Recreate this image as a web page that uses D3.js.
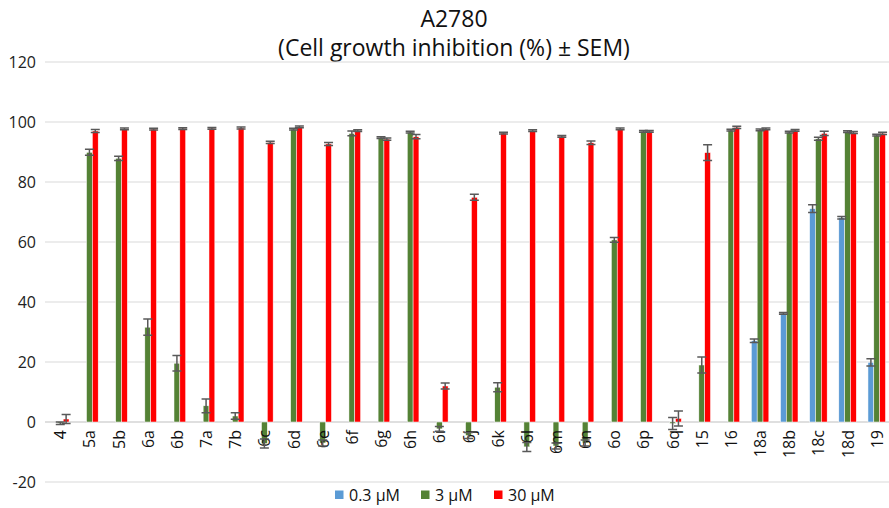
<!DOCTYPE html>
<html>
<head>
<meta charset="utf-8">
<script src="https://cdn.jsdelivr.net/npm/d3@7"></script>
<style>
  body { margin: 0; background: #fff; }
  svg { display: block; font-family: "Open Sans", "Liberation Sans", sans-serif; }
</style>
</head>
<body>
<svg id="chart" width="889" height="508"></svg>
<script>
const categories = ["4","5a","5b","6a","6b","7a","7b","6c","6d","6e","6f","6g","6h","6i","6j","6k","6l","6m","6n","6o","6p","6q","15","16","18a","18b","18c","18d","19"];
const seriesNames = ["0.3 µM", "3 µM", "30 µM"];
const colors = ["#5B9BD5", "#548235", "#FF0000"];

// 0.3 µM only measured for the last five compounds
const low = [null,null,null,null,null,null,null,null,null,null,null,null,null,null,null,null,null,null,null,null,null,null,null,null,27.1,36.2,71.1,68.1,19.9];
const lowErr = [0,0,0,0,0,0,0,0,0,0,0,0,0,0,0,0,0,0,0,0,0,0,0,0,0.6,0.3,1.3,0.4,1.2];
const mid = [-0.4,89.9,87.9,31.6,19.6,5.4,2.0,-7.2,97.6,-7.0,96.2,94.8,96.6,-2.3,-4.5,11.6,-8.3,-8.0,-7.0,60.7,96.9,-0.5,19.0,97.3,97.4,96.6,94.4,96.8,95.6];
const midErr = [0.4,1.0,0.7,2.7,2.6,2.3,1.1,1.5,0.3,1.0,0.8,0.3,0.3,0.8,1.0,1.5,1.5,1.0,1.0,0.8,0.3,2.0,2.7,0.3,0.3,0.3,0.5,0.3,0.3];
const high = [1.0,97.0,97.7,97.6,97.8,97.9,98.0,93.2,98.4,92.7,97.1,94.3,95.1,12.0,74.9,96.3,97.1,95.2,93.1,97.7,96.9,1.2,89.8,98.2,97.7,97.2,96.2,96.5,96.2];
const highErr = [1.5,0.5,0.3,0.3,0.3,0.3,0.3,0.4,0.3,0.5,0.3,0.4,0.7,1.0,1.0,0.3,0.3,0.3,0.6,0.3,0.3,2.5,2.6,0.4,0.3,0.3,0.7,0.3,0.4];
const yTicks = [-20, 0, 20, 40, 60, 80, 100, 120];

const values = [low, mid, high];
const errs = [lowErr, midErr, highErr];

const svg = d3.select("#chart");

const x = d3.scaleBand().domain(categories).range([45.7, 891.3]);
const x1 = d3.scaleBand().domain(seriesNames).range([0, 17.5]);
const y = d3.scaleLinear().domain([-20, 120]).range([482, 62]);

// title
svg.append("text")
  .attr("x", 454).attr("y", 27)
  .attr("text-anchor", "middle")
  .attr("font-size", 23).attr("fill", "#111")
  .text("A2780");
svg.append("text")
  .attr("x", 454).attr("y", 56)
  .attr("text-anchor", "middle")
  .attr("font-size", 23).attr("fill", "#111")
  .text("(Cell growth inhibition (%) ± SEM)");

// gridlines
svg.append("g")
  .selectAll("line")
  .data(yTicks)
  .join("line")
  .attr("x1", 45).attr("x2", 889)
  .attr("y1", d => y(d)).attr("y2", d => y(d))
  .attr("stroke", d => d === 0 ? "#bfbfbf" : "#d9d9d9")
  .attr("stroke-width", 1);

// y labels
svg.append("g")
  .selectAll("text")
  .data(yTicks)
  .join("text")
  .attr("x", 36).attr("y", d => y(d) + 6)
  .attr("text-anchor", "end")
  .attr("font-size", 16).attr("fill", "#222")
  .text(d => d);

// bars
const rows = [];
categories.forEach((c, i) => {
  seriesNames.forEach((s, k) => {
    if (values[k][i] !== null) rows.push({c, s, k, v: values[k][i], e: errs[k][i]});
  });
});
const off = (x.bandwidth() - 17.5) / 2;

svg.append("g")
  .selectAll("rect")
  .data(rows)
  .join("rect")
  .attr("x", d => x(d.c) + off + x1(d.s))
  .attr("width", x1.bandwidth())
  .attr("y", d => y(Math.max(0, d.v)))
  .attr("height", d => Math.abs(y(d.v) - y(0)))
  .attr("fill", d => colors[d.k])
  .attr("stroke", "#fff")
  .attr("stroke-width", 0.5);

// category labels
svg.append("g")
  .selectAll("text")
  .data(categories)
  .join("text")
  .attr("transform", d => `translate(${x(d) + x.bandwidth() / 2 + 6},430) rotate(-90)`)
  .attr("text-anchor", "end")
  .attr("font-size", 16).attr("fill", "#111")
  .text(d => d);

// error bars
const eb = svg.append("g").attr("stroke", "#595959").attr("stroke-width", 1.5).attr("fill", "none");
rows.forEach(d => {
  const cx = x(d.c) + off + x1(d.s) + x1.bandwidth() / 2;
  const y1 = y(d.v + d.e), y2 = y(d.v - d.e);
  eb.append("path")
    .attr("d", `M${cx},${y1}V${y2}M${cx - 4.5},${y1}H${cx + 4.5}M${cx - 4.5},${y2}H${cx + 4.5}`);
});

// legend
const lx = [335, 421, 494];
const lg = svg.append("g");
seriesNames.forEach((s, k) => {
  lg.append("rect").attr("x", lx[k]).attr("y", 490.5).attr("width", 8.5).attr("height", 8.5).attr("fill", colors[k]);
  lg.append("text").attr("x", lx[k] + 14).attr("y", 500.5).attr("font-size", 16).attr("fill", "#111").text(s);
});
</script>
</body>
</html>
